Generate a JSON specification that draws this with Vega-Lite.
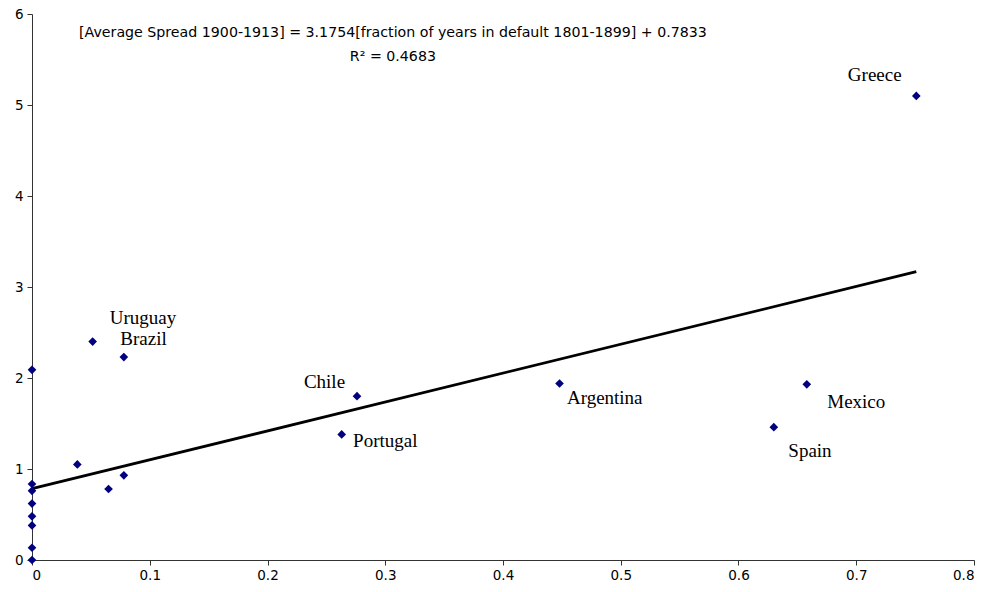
{
  "$schema": "https://vega.github.io/schema/vega-lite/v6.json",
  "autosize": "none",
  "width": 942,
  "height": 546,
  "padding": {"left": 32, "top": 14, "right": 16, "bottom": 32},
  "background": "white",
  "config": {"view": {"stroke": null}},
  "datasets": {
    "points": [
      {"country": "", "x": 0, "y": 0.0},
      {"country": "", "x": 0, "y": 0.135},
      {"country": "", "x": 0, "y": 0.38},
      {"country": "", "x": 0, "y": 0.48},
      {"country": "", "x": 0, "y": 0.62},
      {"country": "", "x": 0, "y": 0.76},
      {"country": "", "x": 0, "y": 0.835},
      {"country": "", "x": 0, "y": 2.09},
      {"country": "", "x": 0.0385, "y": 1.05},
      {"country": "", "x": 0.065, "y": 0.78},
      {"country": "", "x": 0.078, "y": 0.93},
      {"country": "Brazil", "x": 0.078, "y": 2.23},
      {"country": "Uruguay", "x": 0.0515, "y": 2.40},
      {"country": "Chile", "x": 0.276, "y": 1.80},
      {"country": "Portugal", "x": 0.263, "y": 1.38},
      {"country": "Argentina", "x": 0.448, "y": 1.94},
      {"country": "Mexico", "x": 0.658, "y": 1.93},
      {"country": "Spain", "x": 0.630, "y": 1.46},
      {"country": "Greece", "x": 0.751, "y": 5.10}
    ],
    "labels": [
      {"label": "Uruguay", "lx": 0.0943, "ly": 2.66},
      {"label": "Brazil", "lx": 0.0947, "ly": 2.43},
      {"label": "Chile", "lx": 0.2484, "ly": 1.953},
      {"label": "Portugal", "lx": 0.300, "ly": 1.31},
      {"label": "Argentina", "lx": 0.4864, "ly": 1.777},
      {"label": "Mexico", "lx": 0.700, "ly": 1.733},
      {"label": "Spain", "lx": 0.6607, "ly": 1.198},
      {"label": "Greece", "lx": 0.7157, "ly": 5.33}
    ],
    "trend": [
      {"x": 0, "y": 0.7833},
      {"x": 0.751, "y": 3.168}
    ],
    "equation": [
      {"text": "[Average Spread 1900-1913] = 3.1754[fraction of years in default 1801-1899] + 0.7833", "tx": 0.3065, "ty": 5.79},
      {"text": "R² = 0.4683", "tx": 0.3065, "ty": 5.53}
    ]
  },
  "layer": [
    {
      "data": {"name": "trend"},
      "mark": {"type": "line", "color": "black", "strokeWidth": 2.8},
      "encoding": {
        "x": {"field": "x", "type": "quantitative", "scale": {"domain": [0, 0.8]},
          "axis": {"values": [0, 0.1, 0.2, 0.3, 0.4, 0.5, 0.6, 0.7, 0.8], "format": ".1~f", "title": null, "grid": false,
            "domainColor": "#333", "tickColor": "#333", "tickSize": 5, "labelFont": "DejaVu Sans", "labelFontSize": 13.5, "labelColor": "#000", "labelPadding": 3}},
        "y": {"field": "y", "type": "quantitative", "scale": {"domain": [0, 6]},
          "axis": {"values": [0, 1, 2, 3, 4, 5, 6], "format": "d", "title": null, "grid": false,
            "domainColor": "#333", "tickColor": "#333", "tickSize": 5, "labelFont": "DejaVu Sans", "labelFontSize": 13.5, "labelColor": "#000", "labelPadding": 4}}
      }
    },
    {
      "data": {"name": "points"},
      "mark": {"type": "point", "shape": "diamond", "filled": true, "color": "#000080", "size": 75, "opacity": 1},
      "encoding": {
        "x": {"field": "x", "type": "quantitative"},
        "y": {"field": "y", "type": "quantitative"}
      }
    },
    {
      "data": {"name": "labels"},
      "mark": {"type": "text", "font": "Liberation Serif", "fontSize": 19, "color": "#000", "align": "center", "baseline": "middle"},
      "encoding": {
        "x": {"field": "lx", "type": "quantitative"},
        "y": {"field": "ly", "type": "quantitative"},
        "text": {"field": "label"}
      }
    },
    {
      "data": {"name": "equation"},
      "mark": {"type": "text", "font": "DejaVu Sans", "fontSize": 14.2, "color": "#000", "align": "center", "baseline": "middle"},
      "encoding": {
        "x": {"field": "tx", "type": "quantitative"},
        "y": {"field": "ty", "type": "quantitative"},
        "text": {"field": "text"}
      }
    }
  ]
}
